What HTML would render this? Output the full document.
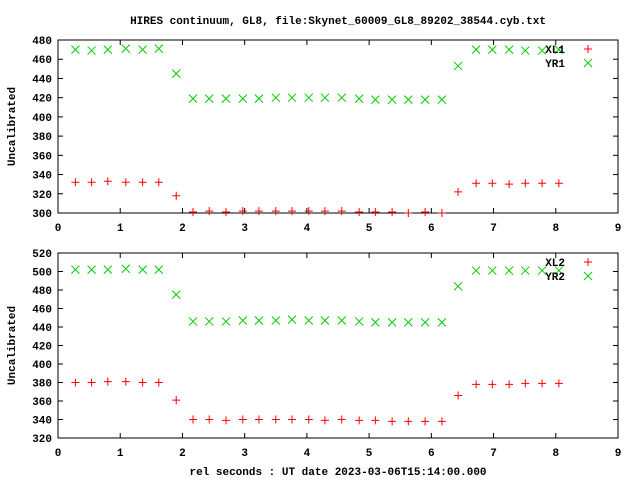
<!DOCTYPE html>
<html><head><meta charset="utf-8"><style>
body{margin:0;background:#fff}
svg{display:block}
text{font-family:"Liberation Mono","DejaVu Sans Mono",monospace;font-size:11px;font-weight:bold;fill:#000}
</style></head><body>
<svg id="c" width="640" height="480" xmlns="http://www.w3.org/2000/svg">
<text x="338" y="24" text-anchor="middle">HIRES continuum, GL8, file:Skynet_60009_GL8_89202_38544.cyb.txt</text>
<text x="338" y="475" text-anchor="middle">rel seconds : UT date 2023-03-06T15:14:00.000</text>
</svg>
<script>
const xTicks=[0,1,2,3,4,5,6,7,8,9];
const times=[0.28,0.54,0.8,1.09,1.36,1.62,1.9,2.17,2.43,2.7,2.97,3.23,3.5,3.76,4.03,4.29,4.56,4.84,5.1,5.37,5.63,5.9,6.17,6.43,6.72,6.98,7.25,7.51,7.78,8.05];
const xl1=[332,332,333,332,332,332,318,301,302,301,302,302,302,302,302,302,302,301,301,301,300,301,300,322,331,331,330,331,331,331];
const yr1=[470,469,470,471,470,471,445,419,419,419,419,419,420,420,420,420,420,419,418,418,418,418,418,453,470,470,470,469,469,470];
const xl2=[380,380,381,381,380,380,361,340,340,339,340,340,340,340,340,339,340,339,339,338,338,338,338,366,378,378,378,379,379,379];
const yr2=[502,502,502,503,502,502,475,446,446,446,447,447,447,448,447,447,447,446,445,445,445,445,445,484,501,501,501,501,501,501];
const yTicks1=[300,320,340,360,380,400,420,440,460,480];
const yTicks2=[320,340,360,380,400,420,440,460,480,500,520];
const svg=document.getElementById('c');
const NS='http://www.w3.org/2000/svg';
const L=58,R=618,xmax=9;
function X(v){return L+(v/xmax)*(R-L);}
function mk(tag,a){const e=document.createElementNS(NS,tag);for(const k in a)e.setAttribute(k,a[k]);svg.appendChild(e);return e;}
function panel(id,top,bot,ymin,ymax,yt,xs,ys,n1,n2){
 const Y=v=>bot-(v-ymin)/(ymax-ymin)*(bot-top);
 const f=mk('rect',{x:L,y:top,width:R-L,height:bot-top,fill:'none',stroke:'#000','stroke-width':1});
 
 
 yt.forEach(v=>{
  const y=Y(v);
  mk('line',{x1:L,y1:y,x2:L+5,y2:y,stroke:'#000'});
  mk('line',{x1:R,y1:y,x2:R-5,y2:y,stroke:'#000'});
  const t=mk('text',{x:L-6,y:y+4,'text-anchor':'end'});t.textContent=v;
  
  
 });
 xTicks.forEach(v=>{
  const x=X(v);
  mk('line',{x1:x,y1:bot,x2:x,y2:bot-5,stroke:'#000'});
  mk('line',{x1:x,y1:top,x2:x,y2:top+5,stroke:'#000'});
  const t=mk('text',{x:x,y:bot+18,'text-anchor':'middle'});t.textContent=v;
  
  
 });
 const yl=mk('text',{x:0,y:0,'text-anchor':'middle',transform:`translate(15,${(top+bot)/2}) rotate(-90)`});
 yl.textContent='Uncalibrated';
 
 
 const plus=(x,y,nm)=>{const g=mk('path',{d:`M${x-4} ${y}H${x+4}M${x} ${y-4}V${y+4}`,stroke:'#f00','stroke-width':1,fill:'none'});
  
  };
 const cross=(x,y,nm)=>{const g=mk('path',{d:`M${x-4} ${y-4}L${x+4} ${y+4}M${x-4} ${y+4}L${x+4} ${y-4}`,stroke:'#0c0','stroke-width':1,fill:'none'});
  
  };
 xs.forEach((v,i)=>plus(X(times[i]),Y(v),id+'-xl-point'));
 ys.forEach((v,i)=>cross(X(times[i]),Y(v),id+'-yr-point'));
 const t1=mk('text',{x:565,y:top+13,'text-anchor':'end'});t1.textContent=n1;
 
 
 plus(588,top+9,id+'-legend-xl-marker');
 const t2=mk('text',{x:565,y:top+27,'text-anchor':'end'});t2.textContent=n2;
 
 
 cross(588,top+23,id+'-legend-yr-marker');
}
panel('top-panel',40,213,300,480,yTicks1,xl1,yr1,'XL1','YR1');
panel('bottom-panel',253,438,320,520,yTicks2,xl2,yr2,'XL2','YR2');
</script>
</body></html>
